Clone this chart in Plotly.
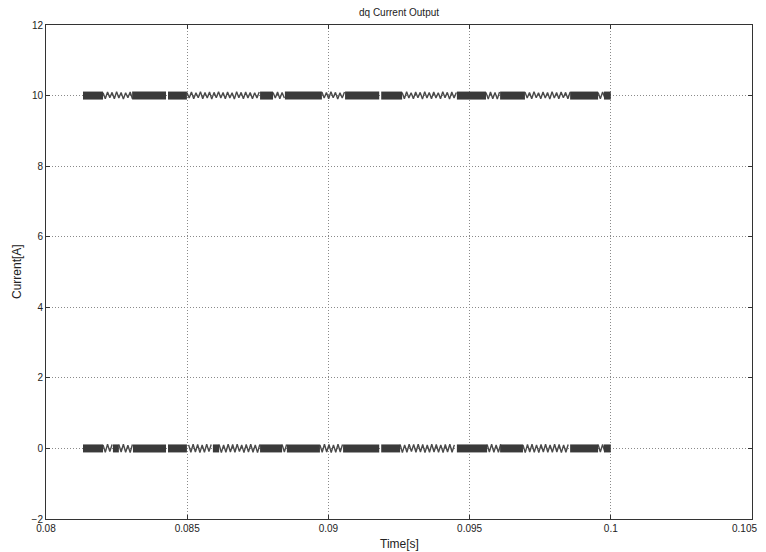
import plotly.graph_objects as go

# ---------------- data ----------------
title_text = "dq Current Output"
x_label = "Time[s]"
y_label = "Current[A]"
x_ticks = [0.08, 0.085, 0.09, 0.095, 0.1, 0.105]
x_ticktext = ["0.08", "0.085", "0.09", "0.095", "0.1", "0.105"]
y_ticks = [-2, 0, 2, 4, 6, 8, 10, 12]

sample_dt = 8e-5  # sample period of the plotted signal [s]

# upper trace (~10 A): stretches of dense switching ripple
iq_level = 10.0
iq_dense_start = [0.08131, 0.08305, 0.08432, 0.08758, 0.08846, 0.09059, 0.09187, 0.09455, 0.09608, 0.09856, 0.09976]
iq_dense_end   = [0.08202, 0.08425, 0.08499, 0.08804, 0.08977, 0.09180, 0.09261, 0.09558, 0.09696, 0.09955, 0.10000]
# sparse ripple stretches: start time and sampled deviations [A]
iq_zig_start = [0.08202, 0.08499, 0.08804, 0.08977, 0.09261, 0.09558, 0.09696, 0.09955]
iq_zig_values = [
    [0.08, -0.09, 0.10, -0.06, 0.09, -0.09, 0.11, -0.07, 0.09, -0.10, 0.08, -0.06, 0.10, -0.09],
    [0.09, -0.07, 0.10, -0.09, 0.08, -0.06, 0.11, -0.09, 0.09, -0.07, 0.10, -0.10, 0.09, -0.06, 0.11, -0.07,
     0.09, -0.09, 0.10, -0.07, 0.08, -0.10, 0.11, -0.06, 0.09, -0.09, 0.10, -0.07, 0.09, -0.09, 0.08, -0.07, 0.10],
    [0.09, -0.07, 0.10, -0.09, 0.09, -0.07],
    [0.10, -0.07, 0.09, -0.09, 0.11, -0.06, 0.09, -0.10, 0.08, -0.07, 0.10],
    [0.09, -0.09, 0.11, -0.07, 0.08, -0.09, 0.10, -0.06, 0.09, -0.10, 0.11, -0.07, 0.09,
     -0.09, 0.10, -0.07, 0.08, -0.09, 0.11, -0.06, 0.09, -0.10, 0.10, -0.07, 0.09],
    [0.09, -0.10, 0.10, -0.09, 0.09, -0.10, 0.10],
    [0.10, -0.07, 0.09, -0.09, 0.11, -0.06, 0.08, -0.09, 0.10, -0.07, 0.09,
     -0.10, 0.11, -0.07, 0.09, -0.09, 0.10, -0.06, 0.09, -0.09, 0.10],
    [0.09, -0.09, 0.10, -0.07],
]

# lower trace (~0 A)
id_level = 0.0
id_dense_start = [0.08131, 0.08237, 0.08308, 0.08432, 0.08591, 0.08758, 0.08853, 0.09052, 0.09187, 0.09455, 0.09608, 0.09856, 0.09976]
id_dense_end   = [0.08202, 0.08258, 0.08425, 0.08499, 0.08613, 0.08836, 0.08970, 0.09180, 0.09254, 0.09562, 0.09689, 0.09955, 0.10000]
id_zig_start = [0.08202, 0.08258, 0.08505, 0.08613, 0.08836, 0.08970, 0.09254, 0.09562, 0.09689, 0.09955]
id_zig_values = [
    [0.10, -0.11, 0.12, -0.09, 0.11],
    [0.11, -0.10, 0.12, -0.11, 0.09, -0.12, 0.11],
    [0.10, -0.11, 0.12, -0.10, 0.11, -0.12, 0.10, -0.11, 0.12, -0.09, 0.11],
    [0.11, -0.12, 0.10, -0.11, 0.12, -0.10, 0.11, -0.11, 0.12, -0.09, 0.10, -0.12, 0.11, -0.10, 0.12,
     -0.11, 0.10, -0.12, 0.11],
    [0.11, -0.10, 0.11],
    [0.10, -0.11, 0.12, -0.10, 0.11, -0.12, 0.10, -0.11, 0.12, -0.10, 0.11],
    [0.11, -0.12, 0.10, -0.11, 0.12, -0.09, 0.11, -0.11, 0.12, -0.10, 0.11, -0.12, 0.10,
     -0.11, 0.12, -0.10, 0.11, -0.11, 0.10, -0.12, 0.11, -0.10, 0.12, -0.11, 0.10],
    [0.11, -0.10, 0.12, -0.11, 0.10, -0.11, 0.12],
    [0.10, -0.12, 0.11, -0.10, 0.12, -0.11, 0.10, -0.12, 0.11, -0.10, 0.12,
     -0.11, 0.10, -0.11, 0.12, -0.10, 0.11, -0.12, 0.10, -0.11, 0.11],
    [0.11, -0.10, 0.11, -0.10],
]

# ---------------- build figure ----------------
band_color = "#3a3a3a"
ripple_color = "#4a4a4a"
tick_font = dict(family="Liberation Sans, Arial, sans-serif", size=10, color="#222222")


def dense_xy(starts, ends, level):
    xs, ys = [], []
    for s, e in zip(starts, ends):
        xs += [s, e, None]
        ys += [level, level, None]
    return xs, ys


def ripple_xy(starts, values, level):
    xs, ys = [], []
    for s, vals in zip(starts, values):
        for i, v in enumerate(vals):
            xs.append(s + i * sample_dt)
            ys.append(level + v)
        xs.append(None)
        ys.append(None)
    return xs, ys


fig = go.Figure()
for starts, vals, level in [(iq_zig_start, iq_zig_values, iq_level), (id_zig_start, id_zig_values, id_level)]:
    x, y = ripple_xy(starts, vals, level)
    fig.add_trace(go.Scatter(x=x, y=y, mode="lines", line=dict(color=ripple_color, width=1.4),
                             connectgaps=False, showlegend=False, hoverinfo="skip"))
for starts, ends, level in [(iq_dense_start, iq_dense_end, iq_level), (id_dense_start, id_dense_end, id_level)]:
    x, y = dense_xy(starts, ends, level)
    fig.add_trace(go.Scatter(x=x, y=y, mode="lines", line=dict(color=band_color, width=8),
                             connectgaps=False, showlegend=False, hoverinfo="skip"))

axis_common = dict(
    automargin=False,
    showline=True, linecolor="#333333", linewidth=1, mirror="ticks",
    ticks="inside", ticklen=4, tickcolor="#333333",
    showgrid=True, gridcolor="#8a8a8a", griddash="1px,2px", gridwidth=1,
    zeroline=False,
    tickfont=tick_font,
)

# the last x tick label sits at the right edge; it is drawn as an annotation
# anchored on its right so that it stays inside the page
x_ticktext_axis = x_ticktext[:-1] + [""]

# the page body adds an 8 px offset, so the figure is sized to the remaining area
fig.update_layout(
    width=758, height=544,
    margin=dict(l=38, r=14, t=17, b=33),
    paper_bgcolor="white", plot_bgcolor="white",
    xaxis=dict(range=[0.08, 0.105], tickvals=x_ticks, ticktext=x_ticktext_axis, **axis_common),
    yaxis=dict(range=[-2, 12], tickvals=y_ticks, **axis_common),
    font=dict(family="Liberation Sans, Arial, sans-serif", color="#222222"),
    annotations=[
        dict(text=title_text, xref="paper", yref="paper", x=0.5, y=1, yshift=5,
             xanchor="center", yanchor="bottom", showarrow=False, font=dict(size=10)),
        dict(text=x_label, xref="paper", yref="paper", x=0.5, y=0, yshift=-16,
             xanchor="center", yanchor="top", showarrow=False, font=dict(size=12)),
        dict(text=y_label, xref="paper", yref="paper", x=0, y=0.5, xshift=-20,
             xanchor="right", yanchor="middle", textangle=-90, showarrow=False, font=dict(size=12)),
        dict(text=x_ticktext[-1], xref="x", yref="paper", x=x_ticks[-1], y=0, yshift=-2, xshift=7,
             xanchor="right", yanchor="top", showarrow=False, font=tick_font),
    ],
)

fig.write_html("out.html")
